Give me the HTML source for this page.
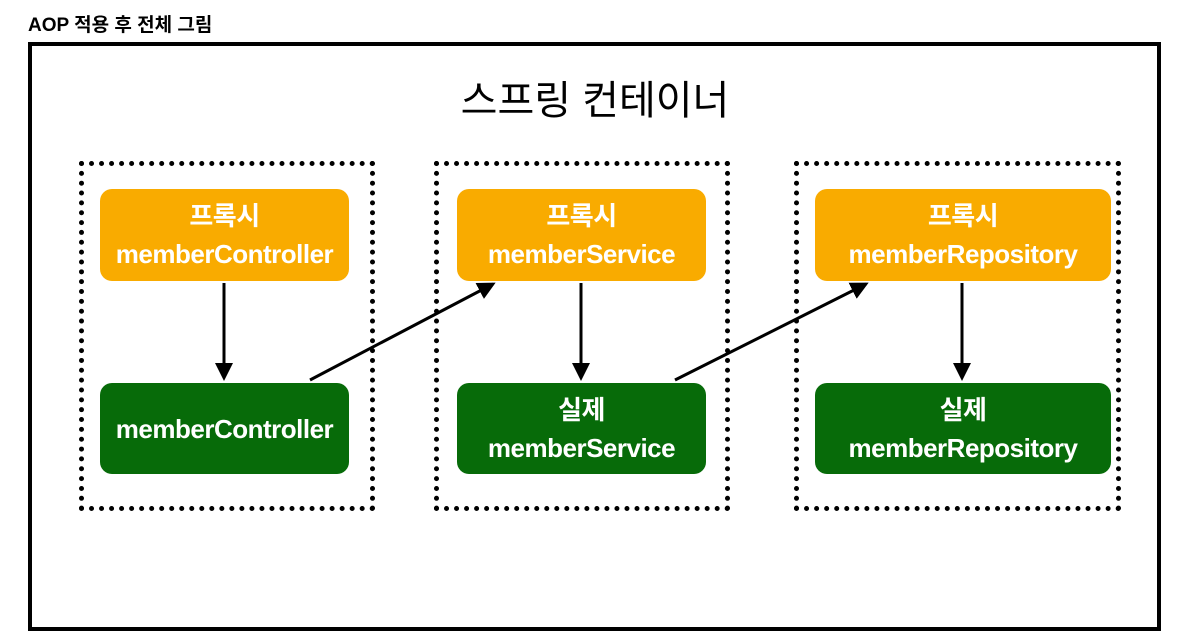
<!DOCTYPE html>
<html><head><meta charset="utf-8"><style>
body{margin:0;width:1190px;height:637px;background:#fff;position:relative;overflow:hidden;font-family:"Liberation Sans","Noto Sans CJK KR",sans-serif}
.t{position:absolute;left:28px;top:10px;font-size:19px;font-weight:bold}
.outer{position:absolute;left:28px;top:42px;width:1125px;height:581px;border:4px solid #000}
.h{position:absolute;left:0;width:1190px;top:68px;text-align:center;font-size:40px}
.d{position:absolute;top:161px;height:340px;border:5px dotted #000;box-sizing:content-box}
.n{position:absolute;border-radius:12px;color:#fff;font-size:26px;font-weight:bold;display:flex;flex-direction:column;align-items:center;justify-content:center;line-height:38px;letter-spacing:-0.5px}
.o{background:#f9ab00}.g{background:#076b09}
</style></head><body>
<div class="t">AOP 적용 후 전체 그림</div>
<div class="outer"></div>
<div class="h">스프링 컨테이너</div>
<div class="d" style="left:79px;width:286px"></div>
<div class="d" style="left:434px;width:286px"></div>
<div class="d" style="left:794px;width:317px"></div>
<div class="n o" style="left:100px;top:189px;width:249px;height:92px"><span>프록시</span><span>memberController</span></div>
<div class="n g" style="left:100px;top:383px;width:249px;height:91px"><span>memberController</span></div>
<div class="n o" style="left:457px;top:189px;width:249px;height:92px"><span>프록시</span><span>memberService</span></div>
<div class="n g" style="left:457px;top:383px;width:249px;height:91px"><span>실제</span><span>memberService</span></div>
<div class="n o" style="left:815px;top:189px;width:296px;height:92px"><span>프록시</span><span>memberRepository</span></div>
<div class="n g" style="left:815px;top:383px;width:296px;height:91px"><span>실제</span><span>memberRepository</span></div>
<svg width="1190" height="637" style="position:absolute;left:0;top:0">
<defs><marker id="a" markerWidth="6" markerHeight="6" refX="5" refY="3" orient="auto" markerUnits="strokeWidth"><path d="M0,0 L6,3 L0,6 z" fill="#000"/></marker></defs>
<g stroke="#000" stroke-width="3" marker-end="url(#a)">
<line x1="224" y1="283" x2="224" y2="378"/>
<line x1="581" y1="283" x2="581" y2="378"/>
<line x1="962" y1="283" x2="962" y2="378"/>
<line x1="310" y1="380" x2="493" y2="284"/>
<line x1="675" y1="380" x2="866" y2="284"/>
</g></svg>
</body></html>
